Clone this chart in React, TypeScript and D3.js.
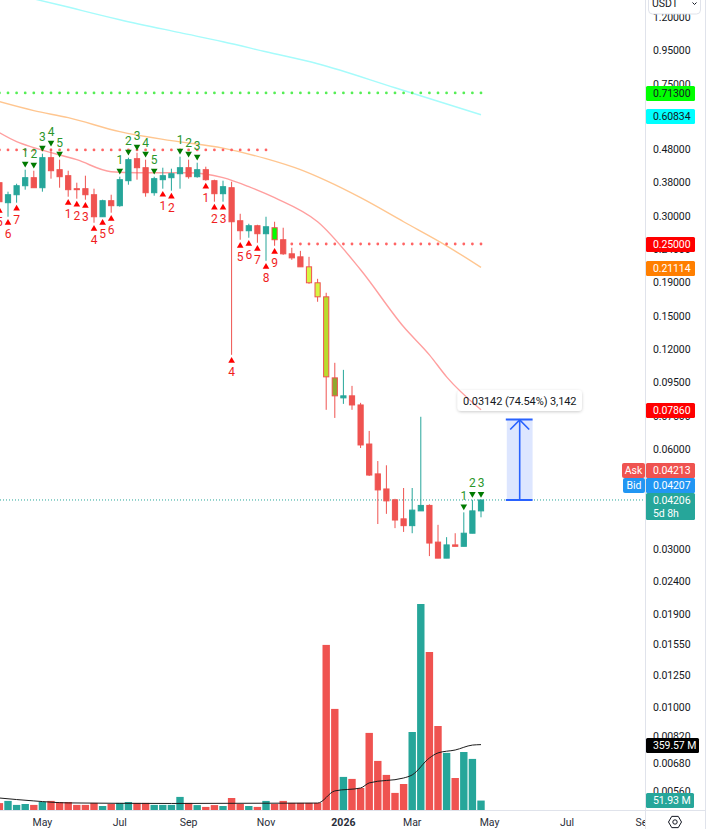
import React from "react";
import * as d3 from "d3";

// weekly bars, oldest first
const opens = [0.3798, 0.3306, 0.3494, 0.3719, 0.3932, 0.3668, 0.4517, 0.4156, 0.3987, 0.3643, 0.3643, 0.3494, 0.2999, 0.3352, 0.3238, 0.3851, 0.4486, 0.4214, 0.3543, 0.3878, 0.3932, 0.4042, 0.4214, 0.3959, 0.4156, 0.3851, 0.3519, 0.3668, 0.2917, 0.2722, 0.2818, 0.2666, 0.2779, 0.2557, 0.2319, 0.2271, 0.2119, 0.1897, 0.1721, 0.0981, 0.0854, 0.0866, 0.0813, 0.062, 0.0504, 0.0454, 0.0421, 0.0369, 0.0352, 0.039, 0.0405, 0.0314, 0.0281, 0.0308, 0.0305, 0.0334, 0.039];
const highs = [0.3878, 0.3568, 0.3771, 0.4156, 0.4127, 0.4644, 0.4808, 0.4455, 0.4127, 0.3798, 0.3987, 0.3643, 0.3375, 0.3494, 0.3959, 0.4517, 0.4676, 0.4455, 0.3959, 0.4214, 0.4185, 0.4549, 0.4455, 0.4363, 0.4244, 0.3878, 0.3851, 0.3824, 0.3062, 0.2857, 0.2837, 0.2999, 0.2897, 0.2779, 0.2418, 0.2367, 0.2271, 0.195, 0.177, 0.1089, 0.1037, 0.0928, 0.0825, 0.0679, 0.0551, 0.0535, 0.0424, 0.0457, 0.0457, 0.0749, 0.0408, 0.0354, 0.0325, 0.0334, 0.0386, 0.0421, 0.0421];
const lows = [0.326, 0.2999, 0.3306, 0.3618, 0.3668, 0.3568, 0.3905, 0.3668, 0.3446, 0.3399, 0.3375, 0.2877, 0.2999, 0.3084, 0.3215, 0.3745, 0.3878, 0.3446, 0.347, 0.3643, 0.3593, 0.3643, 0.3905, 0.3932, 0.3851, 0.3329, 0.3329, 0.1151, 0.2557, 0.2593, 0.2504, 0.221, 0.2452, 0.2303, 0.2225, 0.2119, 0.1884, 0.1663, 0.0786, 0.0743, 0.0819, 0.0786, 0.0603, 0.0497, 0.0356, 0.0382, 0.0346, 0.0337, 0.0334, 0.039, 0.0285, 0.0281, 0.0281, 0.0305, 0.0305, 0.0334, 0.0373];
const closes = [0.3329, 0.3494, 0.3719, 0.3932, 0.3668, 0.4517, 0.4127, 0.3959, 0.3618, 0.3618, 0.3494, 0.2999, 0.3352, 0.3238, 0.3878, 0.4455, 0.4214, 0.3543, 0.3905, 0.3987, 0.4042, 0.4214, 0.3959, 0.4156, 0.3878, 0.3519, 0.3694, 0.2897, 0.2722, 0.2818, 0.2666, 0.2798, 0.2557, 0.2319, 0.2255, 0.2119, 0.1897, 0.1721, 0.0988, 0.0866, 0.0866, 0.0813, 0.0616, 0.05, 0.0451, 0.0418, 0.0366, 0.0352, 0.0392, 0.0405, 0.0312, 0.0281, 0.0308, 0.0305, 0.0334, 0.039, 0.04206];
const volumes = [38, 50, 28, 33, 28, 44, 50, 44, 44, 28, 28, 39, 22, 33, 39, 44, 39, 39, 28, 28, 28, 72, 39, 27, 17, 27, 22, 66, 33, 22, 17, 50, 33, 50, 39, 39, 39, 39, 908, 556, 182, 171, 121, 424, 270, 193, 94, 143, 429, 1133, 869, 462, 314, 176, 319, 281, 51.93];

// moving averages, read at a few bars
const slowBars = [0, 7, 14, 21, 26, 31, 37, 46, 56];
const slowValues = [1.439, 1.302, 1.176, 1.075, 1.0096, 0.9416, 0.8667, 0.7338, 0.6083];
const midBars = [0, 4, 8, 14, 20, 26, 31, 35, 38, 42, 47, 52, 56];
const midValues = [0.6662, 0.6259, 0.5963, 0.5411, 0.5083, 0.4825, 0.4486, 0.4156, 0.3851, 0.3422, 0.2897, 0.2452, 0.2111];
const fastBars = [0, 2, 4, 9, 13, 16, 22, 26, 29, 32, 37, 42, 47, 50, 52, 56];
const fastValues = [0.5372, 0.5048, 0.4842, 0.4455, 0.4099, 0.407, 0.407, 0.3932, 0.3694, 0.3422, 0.2897, 0.2076, 0.1398, 0.1151, 0.0988, 0.0786];
const volMaBars = [0, 4, 8, 20, 37, 39, 42, 43, 47, 48, 50, 51, 53, 55, 56];
const volMaValues = [66, 50, 39, 36, 38, 105, 121, 149, 176, 193, 286, 314, 330, 357, 359.57];

// sequential counts
const sellBars = [3, 4, 5, 6, 7, 14, 15, 16, 17, 18, 21, 22, 23, 54, 55, 56];
const sellCounts = [1, 2, 3, 4, 5, 1, 2, 3, 4, 5, 1, 2, 3, 1, 2, 3];
const buyBars = [0, 1, 2, 8, 9, 10, 11, 12, 13, 19, 20, 24, 25, 26, 27, 28, 29, 30, 31, 32];
const buyCounts = [5, 6, 7, 1, 2, 3, 4, 5, 6, 1, 2, 1, 2, 3, 4, 5, 6, 7, 8, 9];

const priceTicks = [1.2, 0.95, 0.75, 0.48, 0.38, 0.3, 0.24, 0.19, 0.15, 0.12, 0.095, 0.075, 0.06, 0.048, 0.038, 0.03, 0.024, 0.019, 0.0155, 0.0125, 0.01, 0.0082, 0.0068, 0.0056];
const timeLabels = ["May", "Jul", "Sep", "Nov", "2026", "Mar", "May", "Jul", "Sep"];
const timeBars = [5, 14, 22, 31, 40, 48, 57, 66, 75];

const lastPrice = 0.04206;
const rulerTop = 0.0735;
const askPrice = 0.04213;
const bidPrice = 0.04207;

const W = 707;
const H = 829;
const paneRight = 645;
const font = "Roboto, sans-serif";
const teal = "#26a69a";
const red = "#ef5350";

const x = d3.scaleLinear().domain([0, 56]).range([-0.6, 481]);
const y = d3.scaleLog().domain([0.03, 0.95]).range([548.7, 50.5]);
const v = d3.scaleLinear().domain([0, 1133]).range([810, 604]);

const maLine = (bars: number[], values: number[], scale: (n: number) => number) =>
  d3.line<number>()
    .x((_, i) => x(bars[i]))
    .y(d => scale(d))
    .curve(d3.curveMonotoneX)(values) || "";

const triangle = d3.symbol().type(d3.symbolTriangle).size(19)() || "";

// coloured candles from the bar colouring indicator
const barFills: Record<number, string> = { 32: "#00ff00", 36: "#d6f542", 37: "#d6f542", 38: "#b9dc2c", 39: "#8fa82e" };

function Tag({ top, h = 15, w = 49, fill, color, lines }: { top: number; h?: number; w?: number; fill: string; color: string; lines: string[] }) {
  return (
    <g>
      <rect x={646} y={top} width={w} height={h} rx={1.5} fill={fill} />
      {lines.map((l, i) => (
        <text key={i} x={653} y={top + 11.2 + i * 13} fontSize={10.5} letterSpacing={-0.1} fill={color}>{l}</text>
      ))}
    </g>
  );
}

export default function App() {
  const dotLevels = [
    { value: 0.713, from: 0, to: 56, color: "#55ee55" },
    { value: 0.48, from: 0, to: 31, color: "#ff6464" },
    { value: 0.25, from: 34, to: 56, color: "#ff6464" },
  ];
  const rulerLeft = x(59);
  const rulerRight = x(62);
  const rulerMid = (rulerLeft + rulerRight) / 2;

  return (
    <svg width={W} height={H} style={{ position: "absolute", left: 0, top: 0, background: "#fff" }} fontFamily={font}>
      <defs>
        <clipPath id="pane"><rect x={0} y={0} width={paneRight} height={810} /></clipPath>
        <clipPath id="timeAxis"><rect x={0} y={811} width={paneRight} height={18} /></clipPath>
        <filter id="soft" x="-10%" y="-30%" width="120%" height="170%">
          <feDropShadow dx={0} dy={1} stdDeviation={1.5} floodColor="#000" floodOpacity={0.2} />
        </filter>
      </defs>

      <g clipPath="url(#pane)">
        {/* volume */}
        {volumes.map((d, i) => (
          <rect key={i} x={x(i) - 3.7} y={v(d)} width={7.4} height={v(0) - v(d)} fill={closes[i] >= opens[i] ? teal : red} />
        ))}
        <path d={maLine(volMaBars, volMaValues, v)} fill="none" stroke="#1c1c1c" strokeWidth={1} />

        {/* measure label box */}
        <rect x={457.5} y={390} width={124.5} height={21} rx={4} fill="#fff" filter="url(#soft)" />

        {/* moving averages */}
        <path d={maLine(slowBars, slowValues, y)} fill="none" stroke="#a6fbfb" strokeWidth={1.4} />
        <path d={maLine(midBars, midValues, y)} fill="none" stroke="#ffc690" strokeWidth={1.4} />
        <path d={maLine(fastBars, fastValues, y)} fill="none" stroke="#ff9f9f" strokeWidth={1.4} />

        {/* dotted levels */}
        {dotLevels.map(l => d3.range(l.from, l.to + 1).map(i => (
          <circle key={`${l.value}-${i}`} cx={x(i)} cy={y(l.value) + 1} r={1.4} fill={l.color} />
        )))}
        <line x1={0} x2={paneRight} y1={y(lastPrice)} y2={y(lastPrice)} stroke={teal} strokeWidth={1} strokeDasharray="1 2" />

        {/* candles */}
        {opens.map((o, i) => {
          const c = closes[i];
          const color = c >= o ? teal : red;
          const top = y(Math.max(o, c));
          const bottom = y(Math.min(o, c));
          return (
            <g key={i}>
              <line x1={x(i)} x2={x(i)} y1={y(highs[i])} y2={y(lows[i])} stroke={color} strokeWidth={1} />
              <rect x={x(i) - 2.6} y={top} width={5.2} height={Math.max(bottom - top, 0.6)} fill={barFills[i] || color} stroke={color} strokeWidth={1} />
            </g>
          );
        })}

        {/* sequential counts */}
        {sellBars.map((b, i) => (
          <g key={b}>
            <path d={triangle} transform={`translate(${x(b)},${y(highs[b]) - 6}) rotate(180)`} fill="#007a00" />
            <text x={x(b)} y={y(highs[b]) - 12.5} textAnchor="middle" fontSize={12} fill="#2a962a">{sellCounts[i]}</text>
          </g>
        ))}
        {buyBars.map((b, i) => (
          <g key={b}>
            <path d={triangle} transform={`translate(${x(b)},${y(lows[b]) + 6})`} fill="#ff0000" />
            <text x={x(b)} y={y(lows[b]) + 21.5} textAnchor="middle" fontSize={12} fill="#f01e1e">{buyCounts[i]}</text>
          </g>
        ))}

        {/* price range ruler */}
        <rect x={rulerLeft} y={y(rulerTop)} width={rulerRight - rulerLeft} height={y(lastPrice) - y(rulerTop)} fill="#2962ff" fillOpacity={0.16} />
        <g stroke="#2962ff" fill="none">
          <line x1={rulerLeft - 1} x2={rulerRight} y1={y(rulerTop)} y2={y(rulerTop)} strokeWidth={2} />
          <line x1={rulerLeft - 1} x2={rulerRight} y1={y(lastPrice)} y2={y(lastPrice)} strokeWidth={2} />
          <line x1={rulerMid} x2={rulerMid} y1={y(lastPrice)} y2={y(rulerTop)} strokeWidth={1.6} />
          <path d={`M${rulerMid - 9.5},${y(rulerTop) + 10} L${rulerMid},${y(rulerTop) + 0.5} L${rulerMid + 9.5},${y(rulerTop) + 10}`} strokeWidth={1.6} />
        </g>
        <text x={519.7} y={404.5} textAnchor="middle" fontSize={11} letterSpacing={-0.1} fill="#131722">0.03142 (74.54%) 3,142</text>
      </g>

      {/* frame */}
      <line x1={0} x2={705} y1={810.5} y2={810.5} stroke="#e0e3eb" />
      <line x1={645.5} x2={645.5} y1={0} y2={H} stroke="#e0e3eb" />
      <line x1={705.5} x2={705.5} y1={0} y2={H} stroke="#e0e3eb" />

      {/* price axis */}
      {priceTicks.map(t => (
        <text key={t} x={653} y={y(t) + 3.8} fontSize={10.5} letterSpacing={-0.1} fill="#131722">{d3.format(".5f")(t)}</text>
      ))}

      {/* currency select */}
      <rect x={648.5} y={-6} width={52} height={20} rx={4} fill="#fff" stroke="#e0e3eb" />
      <text x={652} y={7} fontSize={10.5} fill="#131722">USDT</text>
      <path d="M692.5,2.5 L694.5,4.5 L696.5,2.5" fill="none" stroke="#131722" />

      {/* price tags */}
      <Tag top={86} fill="#00ff00" color="#131722" lines={["0.71300"]} />
      <Tag top={109} fill="#00ffff" color="#131722" lines={["0.60834"]} />
      <Tag top={237} fill="#ff0000" color="#fff" lines={["0.25000"]} />
      <Tag top={261} fill="#ff7f00" color="#fff" lines={["0.21114"]} />
      <Tag top={403} fill="#ff0000" color="#fff" lines={["0.07860"]} />
      <Tag top={463} fill={red} color="#fff" lines={[askPrice.toFixed(5)]} />
      <Tag top={478} fill="#2196f3" color="#fff" lines={[bidPrice.toFixed(5)]} />
      <Tag top={493} h={27} fill={teal} color="#fff" lines={[lastPrice.toFixed(5), "5d 8h"]} />
      <rect x={622} y={463} width={23} height={15} rx={2} fill={red} />
      <text x={633.5} y={474.2} textAnchor="middle" fontSize={10.5} fill="#fff">Ask</text>
      <rect x={623} y={478} width={22} height={15} rx={2} fill="#2196f3" />
      <text x={634} y={489.2} textAnchor="middle" fontSize={10.5} fill="#fff">Bid</text>
      <Tag top={738} w={53} fill="#000" color="#fff" lines={["359.57 M"]} />
      <Tag top={793} w={48} fill={teal} color="#fff" lines={["51.93 M"]} />

      {/* time axis */}
      <g clipPath="url(#timeAxis)">
        {timeLabels.map((t, i) => (
          <text key={i} x={x(timeBars[i])} y={825.5} textAnchor="middle" fontSize={10.5} fontWeight={t === "2026" ? 700 : 400} fill="#2a2e39">{t}</text>
        ))}
      </g>

      {/* settings icon */}
      <path d={d3.range(6).map(i => `${i ? "L" : "M"}${675 + 6.5 * Math.cos(i * Math.PI / 3)},${822 + 6.5 * Math.sin(i * Math.PI / 3)}`).join(" ") + "Z"} fill="none" stroke="#131722" strokeWidth={1} />
      <circle cx={675} cy={822} r={2.2} fill="none" stroke="#131722" strokeWidth={1} />
    </svg>
  );
}
